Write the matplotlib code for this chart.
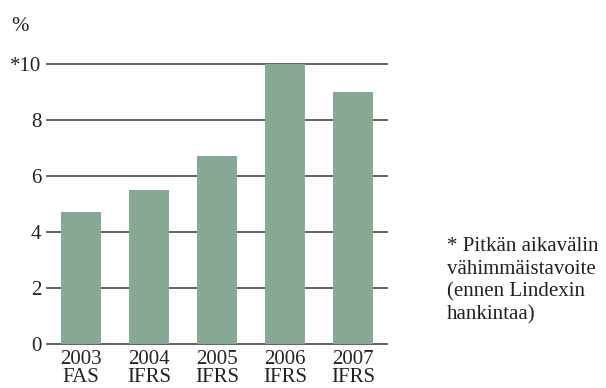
import matplotlib.pyplot as plt

years = ["2003", "2004", "2005", "2006", "2007"]
standards = ["FAS", "IFRS", "IFRS", "IFRS", "IFRS"]
values = [4.7, 5.5, 6.7, 10.0, 9.0]
yticks = [0, 2, 4, 6, 8, 10]
ytick_labels = ["0", "2", "4", "6", "8", "*10"]
note = "* Pitkän aikavälin\nvähimmäistavoite\n(ennen Lindexin\nhankintaa)"

plt.rcParams["font.family"] = ["Liberation Serif", "DejaVu Serif"]

fig = plt.figure(figsize=(6.06, 3.88), dpi=100)
ax = fig.add_axes([47 / 606, 44 / 388, 340 / 606, 280 / 388])

x = list(range(len(years)))
ax.bar(x, values, width=0.6, color="#86a895", zorder=3)

# grid lines behind the bars
for t in yticks:
    ax.axhline(t, color="#555555", lw=1.3, zorder=1, clip_on=False)

ax.set_xlim(-0.5, 4.5)
ax.set_ylim(0, 10)
ax.set_yticks(yticks)
ax.set_yticklabels(ytick_labels, fontsize=15, color="#222222")
ax.set_xticks(x)
ax.set_xticklabels([f"{y}\n{s}" for y, s in zip(years, standards)],
                   fontsize=15, color="#222222", linespacing=0.95)
ax.tick_params(length=0, pad=4)
for s in ax.spines.values():
    s.set_visible(False)

fig.text(11 / 606, 1 - 31 / 388, "%", fontsize=15, color="#222222")
fig.text(447 / 606, 1 - 237 / 388, note, fontsize=15, color="#222222",
         va="top", linespacing=1.25)

fig.savefig("out.png", dpi=100)
